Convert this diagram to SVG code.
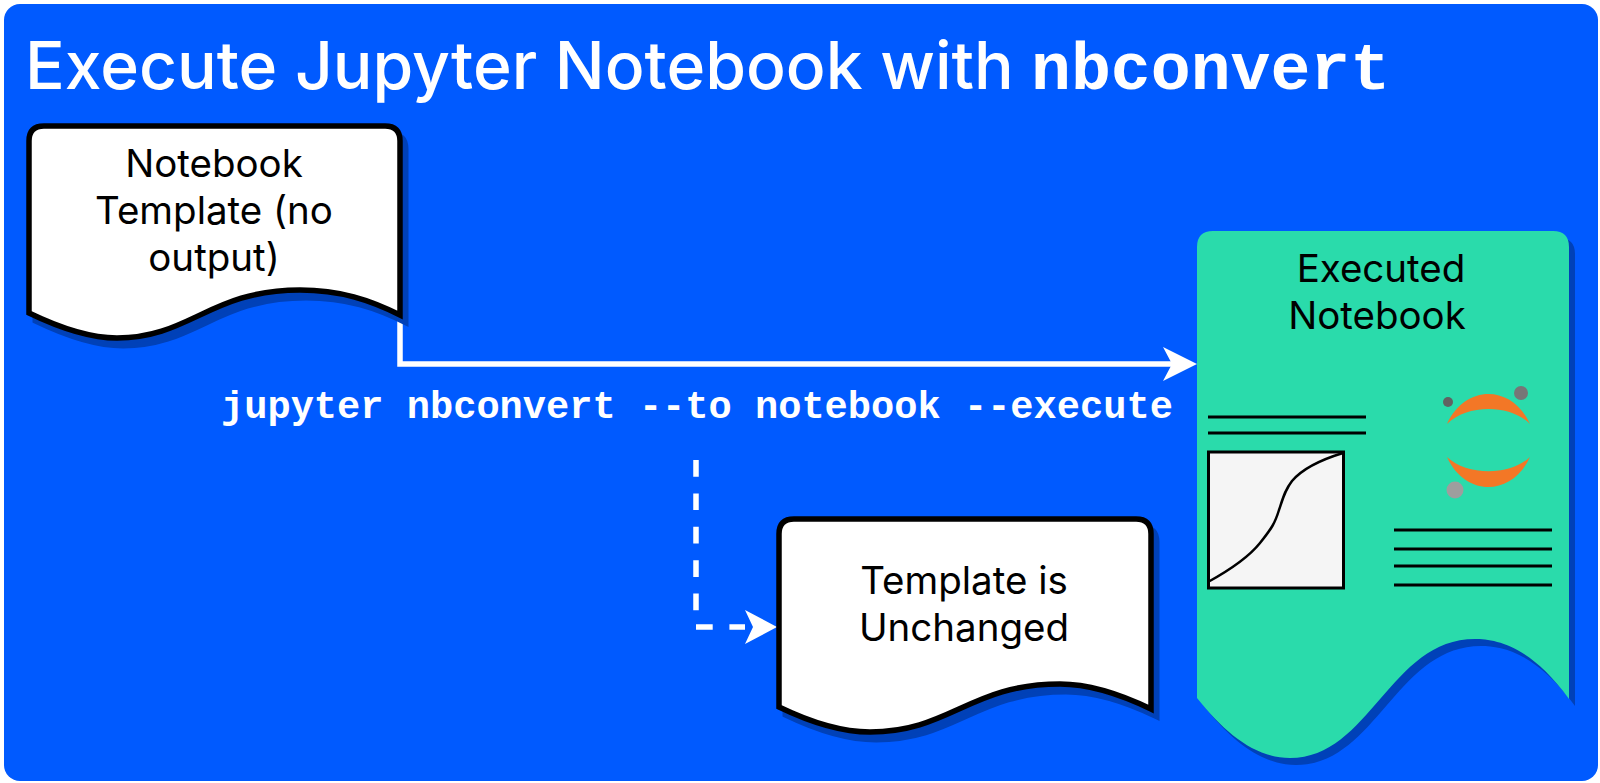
<svg xmlns="http://www.w3.org/2000/svg" width="1600" height="783" viewBox="0 0 1600 783">
<style>
.t{font-family:Inter,"Liberation Sans",sans-serif;font-size:38.500px;fill:#000;text-anchor:middle}
.doc{fill:#fff;stroke:#000;stroke-width:5.500}
.sh{fill:#0041b8;stroke:#0041b8;stroke-width:5}
.ln{stroke:#000;stroke-width:3;fill:none}
.c{fill:none;stroke:#fff;stroke-width:5.500}
.m{font-family:"Liberation Mono",monospace;font-weight:bold;fill:#fff}
</style>
<defs>
<path id="d1" d="M29 313V141Q29 126 44 126H385Q400 126 400 141V315C370 300 340 290 300 290C210 290 190 338 117 338C90 338 60 328 29 313Z"/>
<path id="d2" d="M779 707V534Q779 519 794 519H1136Q1151 519 1151 534V709C1120 694 1090 684 1060 684C970 684 950 732 870 732C840 732 810 722 779 707Z"/>
<path id="d3" d="M1197 698V247Q1197 231 1213 231H1553Q1569 231 1569 247V699C1530 645 1495 639 1475 639C1390 639 1370 758 1290 758C1255 758 1225 733 1197 698Z"/>
</defs>
<rect width="1600" height="783" fill="#fff"/>
<rect x="4" y="4" width="1594" height="777" rx="16" fill="#005aff"/>
<text x="25" y="89" font-family="Inter,'Liberation Sans',sans-serif" font-size="66" font-weight="500" fill="#fff">Execute Jupyter Notebook with <tspan font-family="'Liberation Mono',monospace" font-weight="bold" font-size="66.500" x="1031">nbconvert</tspan></text>
<g id="connectors">
<path class="c" d="M400 310V364H1175"/>
<path fill="#fff" d="M1197 364L1163 347L1172 364L1163 381Z"/>
<path class="c" stroke-dasharray="16.700 16.700" d="M696 460V627H745"/>
<path fill="#fff" d="M777 627L745 610L753 627L745 644Z"/>
</g>
<text class="m" x="221" y="418" font-size="38.700">jupyter nbconvert --to notebook --execute</text>
<g id="template">
<use href="#d1" class="sh" x="6" y="8"/>
<use href="#d1" class="doc"/>
<text class="t" x="214" y="177">Notebook</text>
<text class="t" x="214" y="224">Template (no</text>
<text class="t" x="214" y="271">output)</text>
</g>
<g id="unchanged">
<use href="#d2" class="sh" x="6" y="8"/>
<use href="#d2" class="doc"/>
<text class="t" x="964" y="594">Template is</text>
<text class="t" x="964" y="641">Unchanged</text>
</g>
<g id="executed">
<use href="#d3" fill="#0041b8" x="6" y="7"/>
<use href="#d3" fill="#2adbab"/>
<text class="t" x="1381" y="282">Executed</text>
<text class="t" x="1377" y="329">Notebook</text>
<path class="ln" d="M1208 417H1366M1208 433H1366M1394 530H1552M1394 549H1552M1394 566H1552M1394 585H1552"/>
<rect x="1208.500" y="452" width="135" height="136" fill="#f5f5f5" stroke="#000" stroke-width="3"/>
<path fill="none" stroke="#000" stroke-width="2.500" d="M1208 582C1228 571 1248 558 1260 543C1272 528 1275 523 1279 510C1283 498 1285 490 1292 481C1303 468 1320 460 1343 453"/>
<path fill="#f37726" d="M1447 424C1465 384 1512 384 1530 424C1510 404 1467 404 1447 424Z"/>
<path fill="#f37726" d="M1447 457C1467 476 1510 476 1530 457C1512 497 1465 497 1447 457Z"/>
<circle cx="1521" cy="393" r="7" fill="#767677"/>
<circle cx="1448" cy="402" r="5" fill="#616262"/>
<circle cx="1455" cy="490" r="8.500" fill="#9e9e9e"/>
</g>
</svg>
